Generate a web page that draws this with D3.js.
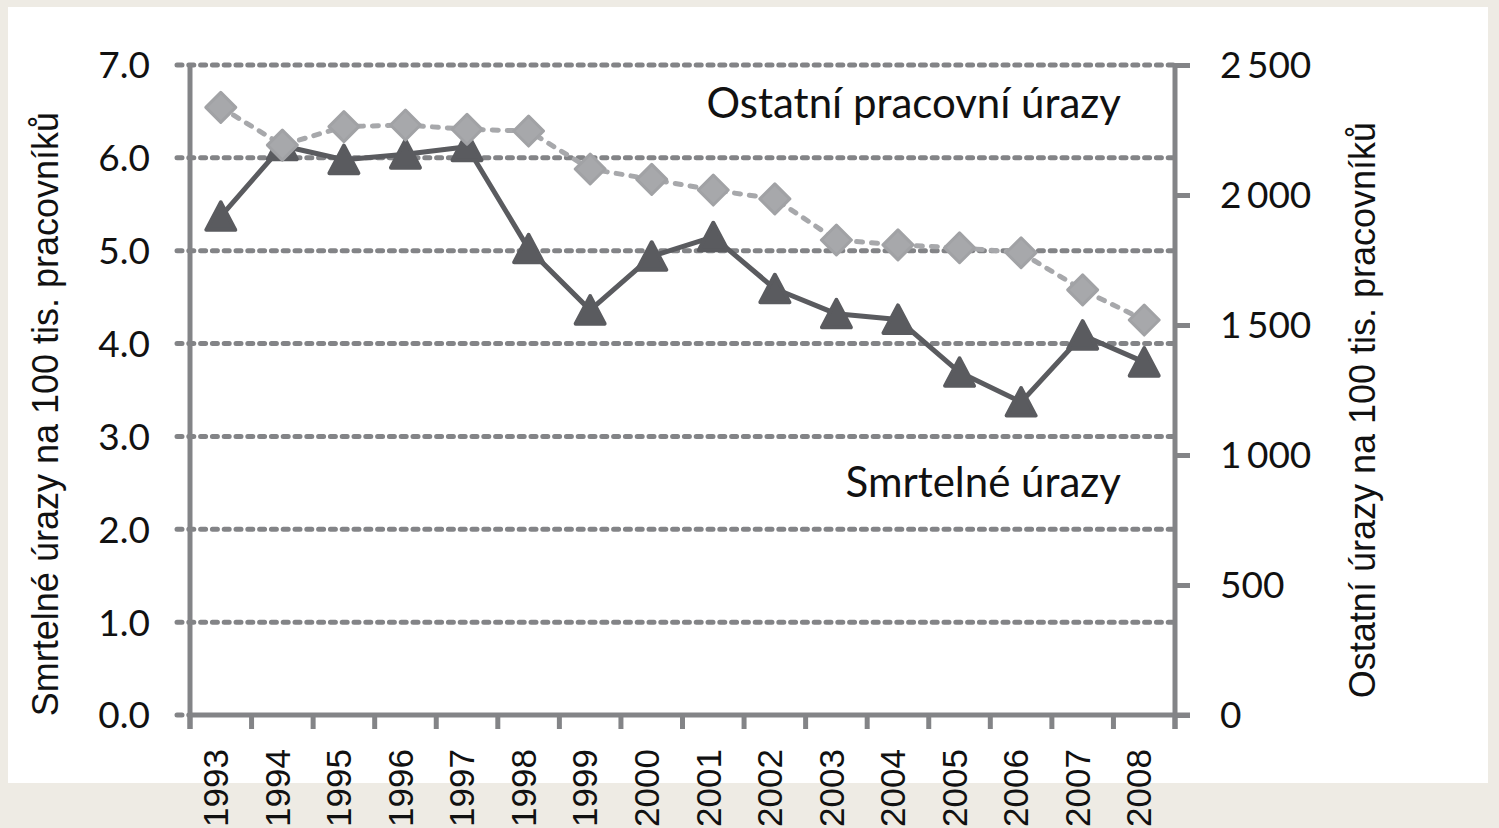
<!DOCTYPE html>
<html><head><meta charset="utf-8">
<script src="https://cdn.jsdelivr.net/npm/d3@7"></script>
<style>
html,body{margin:0;padding:0;background:#eeebe4;}
svg{display:block;}
</style></head>
<body>
<svg id="chart" width="1499" height="828"></svg>
<script>
const years = ["1993","1994","1995","1996","1997","1998","1999","2000","2001","2002","2003","2004","2005","2006","2007","2008"];
const fatal = [5.37,6.13,5.98,6.04,6.12,5.02,4.36,4.94,5.15,4.59,4.32,4.26,3.69,3.37,4.09,3.80];
const other = [2337,2192,2263,2269,2253,2246,2100,2060,2019,1985,1827,1808,1797,1778,1635,1519];
const leftTicks = [0,1,2,3,4,5,6,7];
const rightTicks = [0,500,1000,1500,2000,2500];
const rightTickLabels = ["0","500","1 000","1 500","2 000","2 500"];
const leftTitle = "Smrtelné úrazy na 100 tis. pracovníků";
const rightTitle = "Ostatní úrazy na 100 tis. pracovníků";
const labelOther = "Ostatní pracovní úrazy";
const labelFatal = "Smrtelné úrazy";

const svg = d3.select("#chart");
svg.append("rect").attr("x",8).attr("y",7).attr("width",1480).attr("height",776).attr("fill","#ffffff");

const L = 190, R = 1175, T = 65, B = 715;
const x = d3.scaleBand().domain(years).range([L, R]).padding(0);
const yL = d3.scaleLinear().domain([0,7]).range([B, T]);
const yR = d3.scaleLinear().domain([0,2500]).range([B, T]);
const axisCol = "#838487";
const darkCol = "#5a5b5f";
const lightCol = "#a7a8ab";

// gridlines (dashed), incl. left tick stubs
svg.append("g").selectAll("line").data(leftTicks).join("line")
  .attr("x1", 177).attr("x2", d => d === 0 ? L : R)
  .attr("y1", d => yL(d)).attr("y2", d => yL(d))
  .attr("stroke", axisCol).attr("stroke-width", 5)
  .attr("stroke-dasharray", "5,6.8").attr("stroke-linecap","round");

// left axis labels
const gl = svg.append("g").attr("transform", `translate(${L},0)`)
  .call(d3.axisLeft(yL).tickValues(leftTicks).tickSize(0).tickPadding(40).tickFormat(d3.format(".1f")));
gl.select(".domain").remove();
gl.selectAll("text").attr("font-family","Lato, 'Open Sans', sans-serif").attr("font-size",37).attr("fill","#111").attr("dy","0.35em");

// right axis
const gr = svg.append("g").attr("transform", `translate(${R},0)`)
  .call(d3.axisRight(yR).tickValues(rightTicks).tickSize(15).tickPadding(30).tickFormat((d,i) => rightTickLabels[i]));
gr.select(".domain").remove();
gr.selectAll("line").attr("stroke", axisCol).attr("stroke-width",5);
gr.selectAll("text").attr("font-family","Lato, 'Open Sans', sans-serif").attr("font-size",37).attr("fill","#111").attr("dy","0.35em")
  .attr("word-spacing","-4px");

// bottom axis ticks at category boundaries
const bounds = years.map(d => x(d)).concat([R]);
svg.append("g").selectAll("line").data(bounds).join("line")
  .attr("x1", d => d).attr("x2", d => d).attr("y1", B).attr("y2", B + 14)
  .attr("stroke", axisCol).attr("stroke-width", 5);

// axis lines
svg.append("line").attr("x1",L).attr("x2",L).attr("y1",T).attr("y2",B+14).attr("stroke",axisCol).attr("stroke-width",5);
svg.append("line").attr("x1",R).attr("x2",R).attr("y1",T).attr("y2",B+14).attr("stroke",axisCol).attr("stroke-width",5);
svg.append("line").attr("x1",L).attr("x2",R+15).attr("y1",B).attr("y2",B).attr("stroke",axisCol).attr("stroke-width",5);

// year labels
svg.append("g").selectAll("text").data(years).join("text")
  .attr("transform", d => `translate(${x(d) + x.bandwidth()/2 - 5},749) rotate(-90)`)
  .attr("text-anchor","end").attr("dy","0.35em")
  .attr("font-family","'Liberation Sans', Arial, sans-serif").attr("font-size",35).attr("fill","#111")
  .text(d => d);

const cx = d => x(d) + x.bandwidth()/2;

// fatal series
svg.append("path").datum(fatal)
  .attr("d", d3.line().x((d,i) => cx(years[i])).y(d => yL(d)))
  .attr("fill","none").attr("stroke",darkCol).attr("stroke-width",5).attr("stroke-linejoin","round");
svg.append("g").selectAll("path").data(fatal).join("path")
  .attr("transform",(d,i) => `translate(${cx(years[i])},${yL(d)})`)
  .attr("d","M0,-14 L14.5,13.5 L-14.5,13.5 Z")
  .attr("fill",darkCol).attr("stroke",darkCol).attr("stroke-width",4).attr("stroke-linejoin","round");

// other series
svg.append("path").datum(other)
  .attr("d", d3.line().x((d,i) => cx(years[i])).y(d => yR(d)))
  .attr("fill","none").attr("stroke",lightCol).attr("stroke-width",5)
  .attr("stroke-dasharray","6,9").attr("stroke-linecap","round").attr("stroke-linejoin","round");
svg.append("g").selectAll("path").data(other).join("path")
  .attr("transform",(d,i) => `translate(${cx(years[i])},${yR(d)})`)
  .attr("d","M0,-15 L15,0 L0,15 L-15,0 Z")
  .attr("fill",lightCol).attr("stroke","#a1a2a5").attr("stroke-width",3).attr("stroke-linejoin","round");

// annotations
svg.append("text").attr("x",1121).attr("y",118).attr("text-anchor","end")
  .attr("font-family","Lato, 'Open Sans', sans-serif").attr("font-size",42).attr("fill","#111").text(labelOther);
svg.append("text").attr("x",1121).attr("y",497).attr("text-anchor","end")
  .attr("font-family","Lato, 'Open Sans', sans-serif").attr("font-size",42).attr("fill","#111").text(labelFatal);

// axis titles
svg.append("text").attr("transform","translate(45,414) rotate(-90)").attr("text-anchor","middle").attr("dy","0.35em")
  .attr("font-family","'Liberation Sans', Arial, sans-serif").attr("font-size",36).attr("fill","#111").text(leftTitle);
svg.append("text").attr("transform","translate(1362,410) rotate(-90)").attr("text-anchor","middle").attr("dy","0.35em")
  .attr("font-family","'Liberation Sans', Arial, sans-serif").attr("font-size",36).attr("fill","#111").text(rightTitle);
</script>
</body></html>
